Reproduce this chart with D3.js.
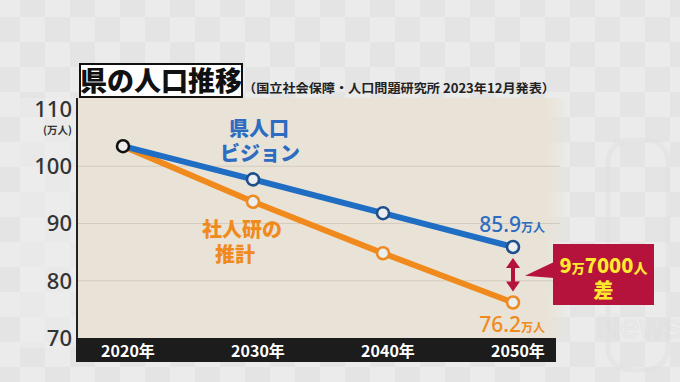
<!DOCTYPE html>
<html><head><meta charset="utf-8">
<script src="https://cdn.jsdelivr.net/npm/d3@7"></script>
<style>
html,body{margin:0;padding:0;background:#e9e9e9;}
svg{display:block;font-family:"Noto Sans CJK JP","Noto Sans",sans-serif;}
</style></head>
<body>
<svg id="c" width="680" height="382"></svg>
<script>
// ---- data ----
const years = [2020, 2030, 2040, 2050];
const xTickLabels = ["2020年", "2030年", "2040年", "2050年"];
const visionValues = [103.5, 97.7, 91.8, 85.9];   // 県人口ビジョン
const ipssValues = [103.5, 93.8, 84.8, 76.2];     // 社人研の推計
const yTicks = [70, 80, 90, 100, 110];
const gridTicks = [80, 90, 100];
const titleText = "県の人口推移";
const subtitleText = "（国立社会保障・人口問題研究所 2023年12月発表）";
const visionLabel = ["県人口", "ビジョン"];
const ipssLabel = ["社人研の", "推計"];
const diffMain = ["9", "万", "7000", "人"];
const diffSub = "差";

const svg = d3.select("#c");
const W = 680, H = 382;

// ---- background checkerboard ----
const bg = svg.append("g");
const cell = 25;
for (let r = 0; r * cell < H + 10; r++) {
  for (let c = 0; c * cell < W + 10; c++) {
    bg.append("rect").attr("x", c * cell - 5).attr("y", r * cell - 8)
      .attr("width", cell).attr("height", cell)
      .attr("fill", (r + c) % 2 ? "#e4e4e4" : "#ebebeb");
  }
}
// watermark (faint)
svg.append("rect").attr("x", 608).attr("y", 140).attr("width", 60).attr("height", 230)
  .attr("rx", 22).attr("fill", "none").attr("stroke", "#e0e0e0").attr("stroke-width", 5).attr("opacity", 0.5);
svg.append("text").attr("x", 596).attr("y", 338).attr("font-size", 34).attr("fill", "none")
  .attr("stroke", "#dedede").attr("stroke-width", 1).attr("opacity", 0.5)
  .attr("font-family", "Liberation Sans, sans-serif").text("News");

// ---- scales ----
const x = d3.scaleLinear().domain([2020, 2050]).range([123, 513]);
const y = d3.scaleLinear().domain([70, 110]).range([338, 109]);

// plot background
const defs = svg.append("defs");
const lg = defs.append("linearGradient").attr("id", "fade").attr("x1", 0).attr("x2", 1);
lg.append("stop").attr("offset", "0.96").attr("stop-color", "#e9e3d7").attr("stop-opacity", 1);
lg.append("stop").attr("offset", "1").attr("stop-color", "#e9e3d7").attr("stop-opacity", 0.2);
svg.append("rect").attr("x", 77).attr("y", 98).attr("width", 488).attr("height", 240).attr("fill", "url(#fade)");

// left labels background lighter
svg.append("rect").attr("x", 20).attr("y", 98).attr("width", 57).attr("height", 250).attr("fill", "#ececec").attr("opacity", 0.6);

// grid
svg.append("g").selectAll("line").data(gridTicks).join("line")
  .attr("x1", 77).attr("x2", 560).attr("y1", d => y(d)).attr("y2", d => y(d))
  .attr("stroke", "#d3cbbd").attr("stroke-width", 1);

// left axis line
svg.append("line").attr("x1", 77).attr("x2", 77).attr("y1", 98).attr("y2", 338)
  .attr("stroke", "#222").attr("stroke-width", 2);

// y tick labels
svg.append("g").selectAll("text").data(yTicks).join("text")
  .attr("x", 72).attr("y", d => y(d)).attr("dy", "0.36em")
  .attr("text-anchor", "end").attr("font-size", 22).attr("font-weight", 500)
  .attr("fill", "#333").attr("font-family", "Noto Sans, sans-serif").text(d => d);
svg.append("text").attr("x", 72).attr("y", 134).attr("text-anchor", "end")
  .attr("font-size", 10.5).attr("font-weight", 700).attr("fill", "#333").text("(万人)");

// x axis bar
svg.append("rect").attr("x", 76).attr("y", 338).attr("width", 480).attr("height", 24).attr("fill", "#1c1c1c");
svg.append("g").selectAll("text").data(years).join("text")
  .attr("x", (d) => x(d) + 5).attr("y", 357).attr("text-anchor", "middle")
  .attr("font-size", 16).attr("font-weight", 700).attr("fill", "#fff")
  .text((d, i) => xTickLabels[i]);

// title
svg.append("rect").attr("x", 80).attr("y", 64).attr("width", 162).attr("height", 33)
  .attr("fill", "#fff").attr("stroke", "#111").attr("stroke-width", 2);
svg.append("text").attr("x", 161).attr("y", 91).attr("text-anchor", "middle")
  .attr("font-size", 27).attr("font-weight", 900).attr("fill", "#111").text(titleText);
svg.append("text").attr("x", 243).attr("y", 93).attr("font-size", 12.5).attr("font-weight", 700)
  .attr("fill", "#222").attr("textLength", 312).attr("lengthAdjust", "spacingAndGlyphs").text(subtitleText);

// lines
const line = d3.line().x((d, i) => x(years[i])).y(d => y(d));
svg.append("path").datum(ipssValues).attr("d", line).attr("fill", "none")
  .attr("stroke", "#f08a1c").attr("stroke-width", 6);
svg.append("path").datum(visionValues).attr("d", line).attr("fill", "none")
  .attr("stroke", "#1f6ec4").attr("stroke-width", 6);

// markers
function markers(vals, color) {
  svg.append("g").selectAll("circle").data(vals.slice(1)).join("circle")
    .attr("cx", (d, i) => x(years[i + 1])).attr("cy", d => y(d)).attr("r", 6)
    .attr("fill", "#edeef0").attr("stroke", color).attr("stroke-width", 2.6);
}
markers(ipssValues, "#ee8a22");
markers(visionValues, "#1d4f8c");
svg.append("circle").attr("cx", x(years[0])).attr("cy", y(visionValues[0])).attr("r", 6)
  .attr("fill", "#eeeeee").attr("stroke", "#111").attr("stroke-width", 2.6);

// series labels (two lines each)
const blue = "#2d6cc0", orange = "#f08a1c";
function twoLine(lines, color, x0, y0, dx2) {
  const g = svg.append("g").attr("font-size", 20).attr("font-weight", 900).attr("fill", color)
    .attr("text-anchor", "middle");
  g.append("text").attr("x", x0).attr("y", y0).text(lines[0]);
  g.append("text").attr("x", x0 + dx2).attr("y", y0 + 25).text(lines[1]);
}
twoLine(visionLabel, blue, 259, 136, 1);
twoLine(ipssLabel, orange, 242, 237, -7);

// end value labels
function endLabel(v, color, yy) {
  const t = svg.append("text").attr("x", 545).attr("y", yy).attr("text-anchor", "end").attr("fill", color)
    .attr("font-family", "Noto Sans, sans-serif");
  t.append("tspan").attr("font-size", 21).attr("font-weight", 500).text(v.toFixed(1));
  t.append("tspan").attr("font-size", 12).attr("font-weight", 700)
    .attr("font-family", "Noto Sans CJK JP").text("万人");
}
endLabel(visionValues[3], blue, y(visionValues[3]) - 15);
endLabel(ipssValues[3], orange, y(ipssValues[3]) + 29);

// difference arrow
const crimson = "#b5123c";
const ax = x(2050), aTop = y(visionValues[3]) + 11, aBot = y(ipssValues[3]) - 11;
svg.append("line").attr("x1", ax).attr("x2", ax).attr("y1", aTop + 8).attr("y2", aBot - 8)
  .attr("stroke", crimson).attr("stroke-width", 4);
svg.append("path").attr("d", `M${ax},${aTop} L${ax - 7},${aTop + 10} L${ax + 7},${aTop + 10} Z`).attr("fill", crimson);
svg.append("path").attr("d", `M${ax},${aBot} L${ax - 7},${aBot - 10} L${ax + 7},${aBot - 10} Z`).attr("fill", crimson);

// callout
const bx = 553, by = 244, bw = 101, bh = 61;
svg.append("path").attr("d", `M${bx + 1},${by + 18} L${ax + 12},${(aTop + aBot) / 2 + 1} L${bx + 1},${by + 34} Z`).attr("fill", crimson);
svg.append("rect").attr("x", bx).attr("y", by).attr("width", bw).attr("height", bh).attr("fill", crimson);
const tt = svg.append("text").attr("text-anchor", "middle")
  .attr("fill", "#ffe92e").attr("font-weight", 900);
const l1 = tt.append("tspan").attr("x", bx + bw / 2).attr("y", by + 29);
l1.append("tspan").attr("font-size", 20).text(diffMain[0]);
l1.append("tspan").attr("font-size", 13).text(diffMain[1]);
l1.append("tspan").attr("font-size", 20).text(diffMain[2]);
l1.append("tspan").attr("font-size", 14).text(diffMain[3]);
tt.append("tspan").attr("x", bx + bw / 2).attr("y", by + 54).attr("font-size", 20).text(diffSub);
</script>
</body></html>
